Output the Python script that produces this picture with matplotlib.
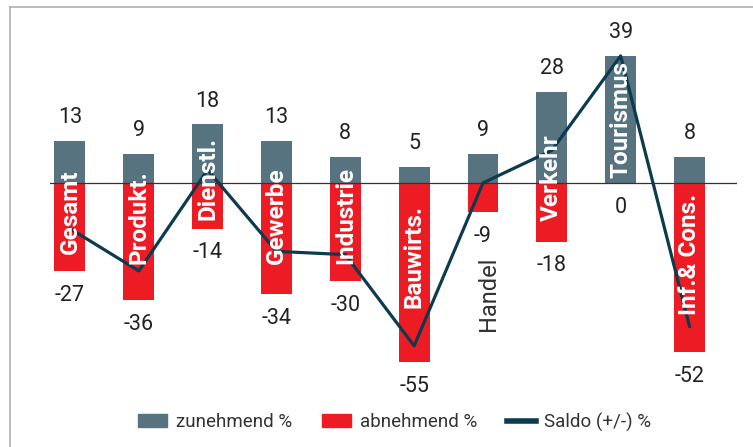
import matplotlib
matplotlib.use('Agg')
from matplotlib import pyplot as plt
from matplotlib.lines import Line2D
from matplotlib.patches import Patch
import numpy as np

plt.rcParams['font.family'] = ['Roboto', 'DejaVu Sans']

categories = ['Gesamt', 'Produkt.', 'Dienstl.', 'Gewerbe', 'Industrie',
              'Bauwirts.', 'Handel', 'Verkehr', 'Tourismus', 'Inf.& Cons.']
zunehmend = [13, 9, 18, 13, 8, 5, 9, 28, 39, 8]
abnehmend = [27, 36, 14, 34, 30, 55, 9, 18, 0, 52]
saldo = [13 - 27, 9 - 36, 18 - 14, 13 - 34, 8 - 30, 5 - 55, 9 - 9, 28 - 18, 39 - 0, 8 - 52]

# where the rotated category names sit (data units, centre of text)
label_y = [-8.7, -10.6, 1.5, -10, -10, -22.7, -34, 1.7, 19.5, -22]

grey = '#56737f'
red = '#ed1c24'
dark = '#0d3b4e'
txt = '#222222'

fig = plt.figure(figsize=(7.53, 4.47), dpi=100)
ax = fig.add_axes([50 / 753, 49 / 447, 687 / 753, 378 / 447])

x = np.arange(len(categories))
ax.bar(x, zunehmend, width=0.45, color=grey, zorder=2)
ax.bar(x, [-v for v in abnehmend], width=0.45, color=red, zorder=2)
ax.axhline(0, color='#333333', lw=0.9, zorder=3)
ax.plot(x, saldo, color=dark, lw=2.3, zorder=4)

for i in range(len(categories)):
    ax.annotate(str(zunehmend[i]), (x[i], zunehmend[i]), xytext=(0, 9),
                textcoords='offset points', ha='center', va='bottom',
                fontsize=15.5, color=txt)
    ax.annotate(str(-abnehmend[i]), (x[i], -abnehmend[i]), xytext=(0, -10),
                textcoords='offset points', ha='center', va='top',
                fontsize=15.5, color=txt)
    if categories[i] == 'Handel':
        ax.text(x[i] + 0.08, label_y[i], categories[i], rotation=90,
                ha='center', va='center', fontsize=17, color='#333333', zorder=5)
    else:
        ax.text(x[i], label_y[i], categories[i], rotation=90, ha='center',
                va='center', fontsize=17.5, fontweight='bold', color='white', zorder=5)

ax.set_xlim(-0.29, 9.69)
ax.set_ylim(-66, 50)
ax.axis('off')

# outer frame (top and left edges visible)
fig.add_artist(Line2D([10 / 753, 1], [1 - 7 / 447, 1 - 7 / 447],
                      transform=fig.transFigure, color='#b5b5b5', lw=1.3))
fig.add_artist(Line2D([10 / 753, 10 / 753], [0, 1 - 7 / 447],
                      transform=fig.transFigure, color='#b5b5b5', lw=1.3))

handles = [Patch(color=grey), Patch(color=red), Line2D([], [], color=dark, lw=4)]
fig.legend(handles, ['zunehmend %', 'abnehmend %', 'Saldo (+/-) %'],
           loc='center', bbox_to_anchor=(395 / 753, 1 - 422 / 447), ncol=3,
           frameon=False, fontsize=13.5, handlelength=1.55, handleheight=0.7,
           handletextpad=0.45, columnspacing=1.6, labelcolor='#333333')

fig.savefig('out.png', dpi=100)
